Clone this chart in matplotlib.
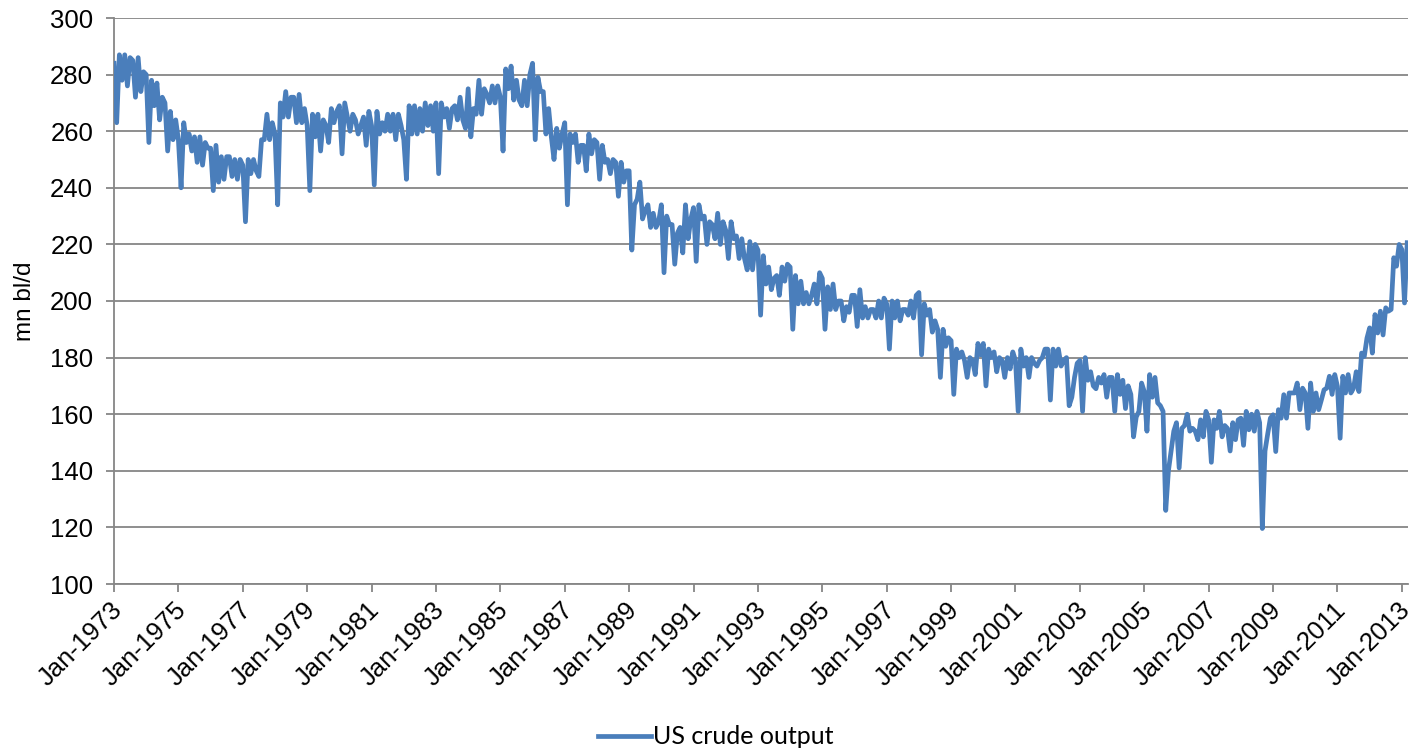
import matplotlib
matplotlib.use("Agg")
import matplotlib.pyplot as plt
import matplotlib.transforms as mtransforms
import numpy as np
import pandas as pd

# Monthly US crude output, Jan-1973 .. Mar-2013
crude_1973_1977 = [
    284, 263, 287, 278, 287, 276, 286, 285, 272, 286, 274, 281,
    280, 256, 278, 269, 277, 264, 272, 270, 253, 267, 257, 264,
    257, 240, 263, 256, 259, 253, 258, 249, 258, 248, 256, 254,
    254, 239, 255, 242, 251, 243, 251, 251, 244, 250, 243, 250,
    248, 228, 250, 245, 250, 246, 244, 257, 257, 266, 257, 263,
]
crude_1978_1982 = [
    259, 234, 270, 265, 274, 265, 272, 272, 263, 273, 263, 268,
    262, 239, 266, 258, 266, 253, 264, 262, 256, 268, 263, 267,
    269, 252, 270, 265, 260, 266, 264, 259, 262, 265, 255, 267,
    262, 241, 267, 259, 263, 260, 266, 260, 266, 257, 266, 262,
    257, 243, 269, 259, 269, 259, 268, 260, 270, 262, 269, 260,
]
crude_1983_1987 = [
    270, 245, 270, 265, 268, 261, 268, 269, 264, 272, 264, 261,
    275, 258, 268, 266, 278, 266, 275, 273, 270, 276, 270, 276,
    272, 253, 282, 275, 283, 271, 278, 271, 269, 278, 269, 280,
    284, 257, 279, 274, 274, 259, 268, 258, 250, 261, 254, 259,
    263, 234, 259, 256, 259, 249, 255, 255, 246, 259, 252, 257,
]
crude_1988_1992 = [
    256, 243, 255, 249, 250, 245, 250, 249, 237, 249, 242, 246,
    246, 218, 234, 236, 242, 229, 232, 234, 226, 231, 226, 228,
    234, 210, 230, 227, 227, 213, 224, 226, 217, 234, 222, 229,
    233, 214, 234, 229, 230, 220, 228, 227, 222, 231, 220, 228,
    225, 215, 228, 222, 223, 215, 222, 215, 211, 221, 211, 220,
]
crude_1993_1997 = [
    218, 195, 216, 206, 212, 204, 208, 209, 202, 212, 207, 213,
    212, 190, 209, 199, 207, 199, 203, 199, 202, 206, 199, 210,
    208, 190, 205, 197, 206, 197, 200, 200, 193, 198, 196, 202,
    202, 191, 204, 194, 198, 194, 197, 197, 194, 200, 194, 201,
    199, 183, 200, 194, 200, 193, 197, 197, 195, 200, 194, 202,
]
crude_1998_2002 = [
    203, 181, 199, 195, 197, 189, 193, 190, 173, 190, 184, 187,
    186, 167, 183, 180, 182, 179, 173, 180, 179, 174, 185, 181,
    185, 170, 183, 180, 182, 175, 180, 179, 173, 180, 176, 182,
    179, 161, 183, 177, 180, 173, 180, 178, 177, 179, 180, 183,
    183, 165, 183, 177, 183, 177, 179, 180, 163, 166, 173, 178,
]
crude_2003_2007 = [
    179, 161, 180, 172, 175, 170, 169, 173, 171, 174, 166, 173,
    173, 161, 174, 167, 172, 162, 170, 167, 152, 159, 161, 171,
    168, 154, 174, 166, 173, 164, 163, 161, 126, 140, 147, 154,
    157, 141, 155, 156, 160, 154, 155, 154, 151, 158, 152, 161,
    158, 143, 158, 155, 161, 152, 156, 155, 147, 157, 151, 158,
]
crude_2008_2013 = [
    158.6, 149, 161, 154.5, 160, 154, 161, 157, 119.6, 147, 153, 158.6,
    159.8, 146.8, 161.6, 158.6, 166.9, 158.6, 167.5, 167.5, 167.5, 171, 161.6, 169.2,
    167.5, 155, 171, 161, 167.5, 161.6, 165, 168.6, 169.2, 173.4, 167, 174,
    169.8, 151.5, 173.4, 167.5, 174, 167.5, 169.2, 175, 168, 181.6, 180.4, 186.9,
    190.5, 181.6, 195.2, 188.7, 196.4, 188, 197.6, 196.4, 197, 215.3, 212.3, 220,
    218.2, 199.3, 220.6,
]

series_name = "US crude output"
y_label = "mn bl/d"
y_ticks = [100, 120, 140, 160, 180, 200, 220, 240, 260, 280, 300]

values = (crude_1973_1977 + crude_1978_1982 + crude_1983_1987 + crude_1988_1992
          + crude_1993_1997 + crude_1998_2002 + crude_2003_2007 + crude_2008_2013)
months = pd.date_range("1973-01-01", periods=len(values), freq="MS")
x = np.arange(len(values))

tick_idx = [i for i, d in enumerate(months) if d.month == 1 and (d.year - 1973) % 2 == 0]
tick_labels = [months[i].strftime("Jan-%Y") for i in tick_idx]

plt.rcParams["font.family"] = ["Liberation Sans", "DejaVu Sans"]

fig = plt.figure(figsize=(14.1, 7.51), dpi=100)
ax = fig.add_axes([114 / 1410, 1 - 584 / 751, (1408 - 114) / 1410, (584 - 18) / 751])

grid_col = "#868686"
line_col = "#4A7EBB"

ax.plot(x, values, color=line_col, linewidth=3.4, solid_joinstyle="round",
        label=series_name, zorder=3)

ax.set_xlim(0, (1408 - 114) / 2.683)
ax.set_ylim(100, 300)
ax.set_yticks(y_ticks)
ax.set_xticks(tick_idx)
ax.set_xticklabels(tick_labels, rotation=45, ha="right", rotation_mode="anchor")

ax.yaxis.grid(True, color=grid_col, linewidth=1.3)
ax.set_axisbelow(True)
for s in ["top", "right"]:
    ax.spines[s].set_visible(False)
for s in ["left", "bottom"]:
    ax.spines[s].set_color(grid_col)
    ax.spines[s].set_linewidth(1.3)

ax.tick_params(axis="both", colors=grid_col, length=6, width=1.3, labelcolor="black",
               labelsize=18.5)
ax.tick_params(axis="x", pad=4)
ax.tick_params(axis="y", pad=9)
ax.set_ylabel(y_label, fontsize=17.5, labelpad=10)

shift = mtransforms.ScaledTranslation(-4 / 100, 0, fig.dpi_scale_trans)
for lbl in ax.get_xticklabels():
    lbl.set_transform(lbl.get_transform() + shift)

leg = fig.legend(loc="center", bbox_to_anchor=(716 / 1410, 1 - 737 / 751), frameon=False,
                 prop={"family": "Lato", "size": 18}, handlelength=2.1, handletextpad=0.1)

fig.savefig("out.png", dpi=100)
